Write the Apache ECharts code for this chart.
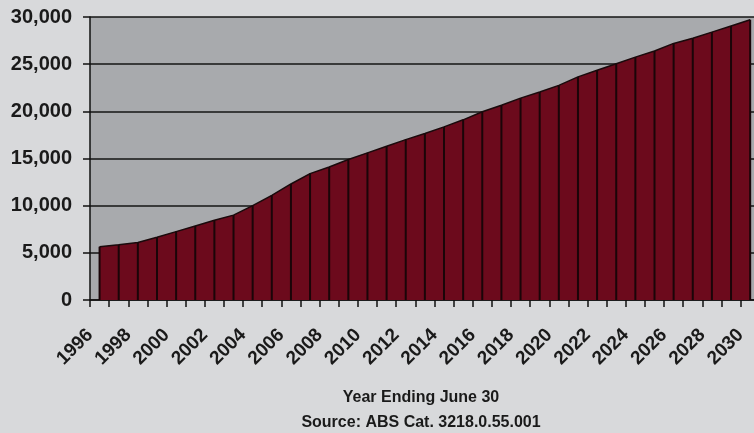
<!DOCTYPE html>
<html>
<head>
<meta charset="utf-8">
<script src="https://cdn.jsdelivr.net/npm/echarts@6/dist/echarts.min.js"></script>
<style>
  html, body { margin: 0; padding: 0; background: #d8d9db; }
  #chart { width: 754px; height: 433px; }
</style>
</head>
<body>
<div id="chart"></div>
<script>
// years (year ending June 30) and values
const years = [1996, 1997, 1998, 1999, 2000, 2001, 2002, 2003, 2004, 2005,
  2006, 2007, 2008, 2009, 2010, 2011, 2012, 2013, 2014, 2015,
  2016, 2017, 2018, 2019, 2020, 2021, 2022, 2023, 2024, 2025,
  2026, 2027, 2028, 2029, 2030]
const values = [5650, 5850, 6100, 6650, 7250, 7850, 8450, 9000, 10000, 11100,
  12300, 13400, 14100, 14900, 15600, 16300, 17000, 17650, 18350, 19100,
  19950, 20650, 21400, 22050, 22750, 23650, 24350, 25050, 25750, 26400,
  27200, 27750, 28400, 29050, 29700]
const labelYears = years.filter(y => y % 2 === 0)
const yTicks = [0, 5000, 10000, 15000, 20000, 25000, 30000]

const labelFont = "'Liberation Sans', Arial, sans-serif"

// each point sits in the middle of its year band
const points = years.map((y, i) => [y + 0.5, values[i]])

const chart = echarts.init(document.getElementById('chart'))

const option = {
  backgroundColor: '#d8d9db',
  animation: false,
  title: {
    text: 'Year Ending June 30',
    subtext: 'Source: ABS Cat. 3218.0.55.001',
    left: 416,
    top: 385,
    textAlign: 'center',
    itemGap: 9,
    textStyle: { fontFamily: labelFont, fontSize: 16, fontWeight: 'bold', color: '#1a1a1a' },
    subtextStyle: { fontFamily: labelFont, fontSize: 16, fontWeight: 'bold', color: '#1a1a1a' }
  },
  grid: {
    left: 90,
    right: 0,
    top: 17,
    bottom: 133,
    show: true,
    backgroundColor: '#a8aaad',
    borderWidth: 0
  },
  xAxis: {
    type: 'value',
    min: years[0],
    max: 2030.7,
    interval: 1,
    splitLine: { show: false },
    axisLine: { show: true, lineStyle: { color: '#111', width: 1.5 } },
    axisTick: { show: true, length: 7, customValues: years, lineStyle: { color: '#111', width: 1.5 } },
    axisLabel: {
      customValues: labelYears,
      rotate: 45,
      margin: 32,
      fontFamily: labelFont,
      fontSize: 19,
      fontWeight: 'bold',
      color: '#1a1a1a',
      formatter: v => String(v)
    }
  },
  yAxis: {
    type: 'value',
    min: yTicks[0],
    max: yTicks[yTicks.length - 1],
    interval: 5000,
    axisLine: { show: true, lineStyle: { color: '#111', width: 1.5 } },
    axisTick: { show: true, length: 7, lineStyle: { color: '#111', width: 1.5 } },
    splitLine: { show: true, lineStyle: { color: '#151515', width: 1.5 } },
    axisLabel: {
      margin: 18,
      fontFamily: labelFont,
      fontSize: 20,
      fontWeight: 'bold',
      color: '#1a1a1a',
      formatter: v => v.toLocaleString('en-US')
    }
  },
  series: [
    {
      type: 'line',
      data: points,
      symbol: 'none',
      lineStyle: { color: '#1a0a0c', width: 1.5 },
      areaStyle: { color: '#6c0a1c', opacity: 1 },
      z: 2
    },
    {
      // drop lines under each point
      type: 'bar',
      data: points,
      barWidth: 2,
      itemStyle: { color: '#1a0508' },
      z: 3
    }
  ]
}

chart.setOption(option)
</script>
</body>
</html>
